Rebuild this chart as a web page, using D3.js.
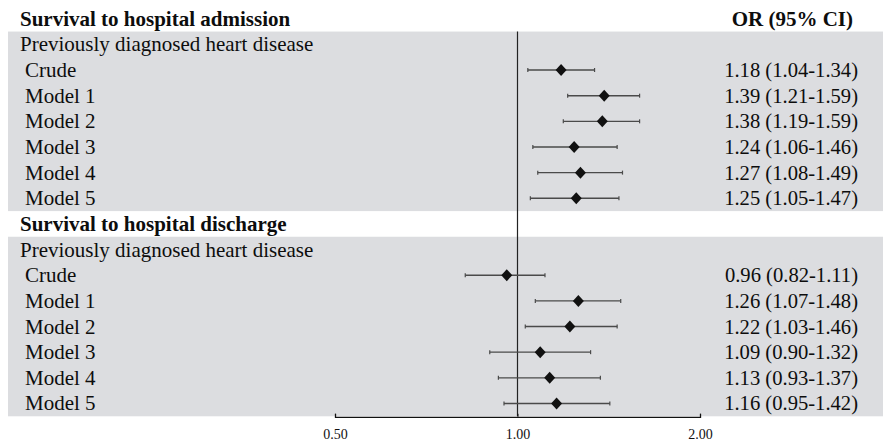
<!DOCTYPE html>
<html>
<head>
<meta charset="utf-8">
<script src="https://cdn.jsdelivr.net/npm/d3@7"></script>
<style>
  html, body { margin: 0; padding: 0; background: #fff; }
  svg { display: block; font-family: "Liberation Serif", "Times New Roman", serif; }
</style>
</head>
<body>
<svg id="chart" width="883" height="446"></svg>
<script>
// section headers and row labels
let sectionTitles = ["Survival to hospital admission", "Survival to hospital discharge"];
let groupLabel = "Previously diagnosed heart disease";
let modelLabels = ["Crude", "Model 1", "Model 2", "Model 3", "Model 4", "Model 5"];

// odds ratios
let admissionOR = [1.18, 1.39, 1.38, 1.24, 1.27, 1.25];
let admissionLow = [1.04, 1.21, 1.19, 1.06, 1.08, 1.05];
let admissionHigh = [1.34, 1.59, 1.59, 1.46, 1.49, 1.47];

let dischargeOR = [0.96, 1.26, 1.22, 1.09, 1.13, 1.16];
let dischargeLow = [0.82, 1.07, 1.03, 0.90, 0.93, 0.95];
let dischargeHigh = [1.11, 1.48, 1.46, 1.32, 1.37, 1.42];

let axisTicks = [0.5, 1, 2];

let svg = d3.select('#chart');
let width = 883;

// build the row list: header, group, six models per section
let rows = [];
let series = [
    { or: admissionOR, lo: admissionLow, hi: admissionHigh },
    { or: dischargeOR, lo: dischargeLow, hi: dischargeHigh }
];
sectionTitles.forEach((title, s) => {
    rows.push({ type: 'header', label: title, section: s });
    rows.push({ type: 'group', label: groupLabel, section: s });
    modelLabels.forEach((m, i) => {
        rows.push({
            type: 'model', label: m, section: s,
            or: series[s].or[i], lo: series[s].lo[i], hi: series[s].hi[i]
        });
    });
});
rows.forEach((r, i) => r.index = i);

let y = d3.scaleBand()
    .domain(rows.map(r => r.index))
    .range([5.9, 416.3]);

let x = d3.scaleLog()
    .base(2)
    .domain([0.5, 2])
    .range([335, 700]);

// grey bands behind each section's body rows
sectionTitles.forEach((title, s) => {
    let body = rows.filter(r => r.section === s && r.type !== 'header');
    let top = y(body[0].index);
    let bottom = y(body[body.length - 1].index) + y.bandwidth();
    svg.append('rect')
        .attr('x', 8)
        .attr('y', top)
        .attr('width', width - 8)
        .attr('height', bottom - top)
        .attr('fill', '#dcdde0');
});

let rowMid = (r) => y(r.index) + y.bandwidth() / 2;

// left labels
svg.selectAll('text.label')
    .data(rows)
    .enter()
    .append('text')
    .attr('class', 'label')
    .attr('x', (r) => r.type === 'model' ? 25 : 20)
    .attr('y', (r) => rowMid(r) + 7)
    .style('font-size', '21px')
    .style('font-weight', (r) => r.type === 'header' ? 'bold' : 'normal')
    .attr('fill', '#0d0d0d')
    .text((r) => r.label);

// column header
svg.append('text')
    .attr('x', 853)
    .attr('y', rowMid(rows[0]) + 7)
    .attr('text-anchor', 'end')
    .style('font-size', '21px')
    .style('font-weight', 'bold')
    .attr('fill', '#0d0d0d')
    .text('OR (95% CI)');

// reference line at OR = 1
let lastRow = rows[rows.length - 1];
svg.append('line')
    .attr('x1', x(1))
    .attr('x2', x(1))
    .attr('y1', y(1))
    .attr('y2', y(lastRow.index) + y.bandwidth())
    .attr('stroke', '#222')
    .attr('stroke-width', 1.2);

let modelRows = rows.filter(r => r.type === 'model');

let marks = svg.selectAll('g.mark')
    .data(modelRows)
    .enter()
    .append('g')
    .attr('class', 'mark')
    .attr('transform', (r) => 'translate(0,' + rowMid(r) + ')');

marks.append('line')
    .attr('x1', (r) => x(r.lo))
    .attr('x2', (r) => x(r.hi))
    .attr('stroke', '#4a4a4a')
    .attr('stroke-width', 1.4);

marks.selectAll('line.cap')
    .data((r) => [r.lo, r.hi])
    .enter()
    .append('line')
    .attr('class', 'cap')
    .attr('x1', (v) => x(v))
    .attr('x2', (v) => x(v))
    .attr('y1', -2)
    .attr('y2', 2)
    .attr('stroke', '#4a4a4a')
    .attr('stroke-width', 1.2);

marks.append('path')
    .attr('d', (r) => {
        let cx = x(r.or);
        return `M${cx},-6 L${cx + 5.5},0 L${cx},6 L${cx - 5.5},0 Z`;
    })
    .attr('fill', '#111');

// values column
marks.append('text')
    .attr('x', 858)
    .attr('y', 7)
    .attr('text-anchor', 'end')
    .style('font-size', '20.6px')
    .attr('fill', '#0d0d0d')
    .text((r) => `${r.or.toFixed(2)} (${r.lo.toFixed(2)}-${r.hi.toFixed(2)})`);

// x axis with upward ticks
let axis = d3.axisBottom(x)
    .tickValues(axisTicks)
    .tickSize(-3)
    .tickPadding(12.5)
    .tickFormat(d3.format('.2f'));

let axisG = svg.append('g')
    .attr('transform', 'translate(0,' + (y(lastRow.index) + y.bandwidth() + 0.5) + ')')
    .call(axis);

axisG.select('.domain').attr('stroke', '#111').attr('stroke-width', 1.3);
axisG.selectAll('.tick line').attr('stroke', '#111');
axisG.selectAll('.tick text')
    .attr('fill', '#111')
    .style('font-size', '14px')
    .style('font-family', '"Liberation Serif", serif');
</script>
</body>
</html>
